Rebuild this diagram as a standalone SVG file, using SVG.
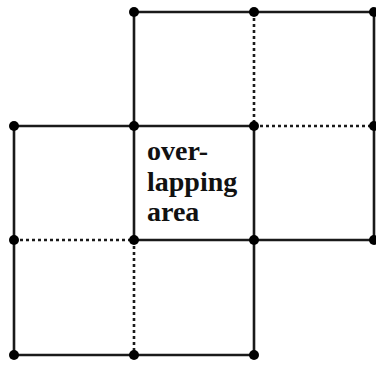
<svg xmlns="http://www.w3.org/2000/svg" width="376" height="365" viewBox="0 0 376 365">
<style>
.s{stroke:#1a1a1a;stroke-width:2.6;fill:none}
.d{stroke:#1a1a1a;stroke-width:2.6;fill:none;stroke-dasharray:3 3}
.n{fill:#000}
.t{font-family:"Liberation Serif","Times New Roman",serif;font-weight:bold;font-size:28px;fill:#111}
</style>
<rect width="376" height="365" fill="#fff"/>
<g id="connectors">
<path class="s" d="M134 12H374M134 12V240M374 12V240M14 126H254M14 126V355M254 126V355M134 240H374M14 355H254"/>
<path class="d" d="M254 12V126M254 126H374M14 240H134M134 240V355"/>
</g>
<g id="nodes">
<circle id="n1" class="n" cx="134" cy="12" r="5"/>
<circle id="n2" class="n" cx="254" cy="12" r="5"/>
<circle id="n3" class="n" cx="374" cy="12" r="5"/>
<circle id="n4" class="n" cx="14" cy="126" r="5"/>
<circle id="n5" class="n" cx="134" cy="126" r="5"/>
<circle id="n6" class="n" cx="254" cy="126" r="5"/>
<circle id="n7" class="n" cx="374" cy="126" r="5"/>
<circle id="n8" class="n" cx="14" cy="240" r="5"/>
<circle id="n9" class="n" cx="134" cy="240" r="5"/>
<circle id="n10" class="n" cx="254" cy="240" r="5"/>
<circle id="n11" class="n" cx="374" cy="240" r="5"/>
<circle id="n12" class="n" cx="14" cy="355" r="5"/>
<circle id="n13" class="n" cx="134" cy="355" r="5"/>
<circle id="n14" class="n" cx="254" cy="355" r="5"/>
</g>
<g id="label">
<text class="t" x="147" y="160">over-</text>
<text class="t" x="147" y="191">lapping</text>
<text class="t" x="147" y="221">area</text>
</g>
</svg>
